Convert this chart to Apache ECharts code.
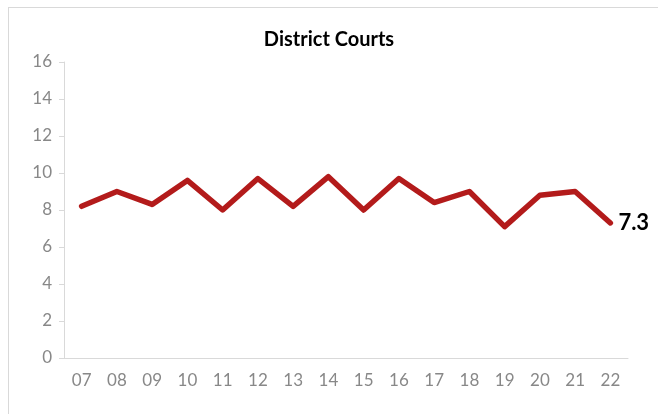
<!doctype html>
<html>
<head>
<meta charset="utf-8">
<title>District Courts</title>
<script src="https://cdn.jsdelivr.net/npm/echarts@6/dist/echarts.min.js"></script>
<style>
  html, body { margin: 0; padding: 0; background: #fff; }
  #frame { position: absolute; left: 8px; top: 7px; width: 680px; height: 440px; border: 1px solid #d9d9d9; }
  #main { position: absolute; left: 0; top: 0; width: 658px; height: 414px; }
</style>
</head>
<body>
<div id="frame"></div>
<div id="main"></div>
<script type="text/javascript">
  // years (two-digit)
  var years = ['07', '08', '09', '10', '11', '12', '13', '14', '15', '16', '17', '18', '19', '20', '21', '22'];
  var values = [8.2, 9.0, 8.3, 9.6, 8.0, 9.7, 8.2, 9.8, 8.0, 9.7, 8.4, 9.0, 7.1, 8.8, 9.0, 7.3];

  var myChart = echarts.init(document.getElementById('main'));

  var option = {
    animation: false,
    title: {
      text: 'District Courts',
      left: 'center',
      top: 25,
      textStyle: { fontFamily: 'Lato', fontWeight: 'bold', fontSize: 20, color: '#000' }
    },
    grid: { left: 64, right: 30, top: 62, bottom: 56 },
    xAxis: {
      type: 'category',
      data: years,
      boundaryGap: true,
      axisLine: { lineStyle: { color: '#d9d9d9', width: 1 } },
      axisTick: { show: false },
      axisLabel: { color: '#888', fontFamily: 'Lato', fontSize: 17, margin: 14 }
    },
    yAxis: {
      type: 'value',
      min: 0,
      max: 16,
      interval: 2,
      splitLine: { show: false },
      axisLine: { show: true, lineStyle: { color: '#d9d9d9', width: 1 } },
      axisTick: { show: true, length: 5, lineStyle: { color: '#d9d9d9' } },
      axisLabel: { color: '#888', fontFamily: 'Lato', fontSize: 17, margin: 12 }
    },
    series: [{
      type: 'line',
      data: values,
      symbol: 'none',
      lineStyle: { color: '#b31b1b', width: 5.5, cap: 'round', join: 'round' },
      endLabel: {
        show: true,
        formatter: function (p) { return p.value; },
        color: '#000',
        fontFamily: 'Lato',
        fontWeight: 'bold',
        fontSize: 22,
        distance: 8
      }
    }]
  };

  myChart.setOption(option);
</script>
</body>
</html>
